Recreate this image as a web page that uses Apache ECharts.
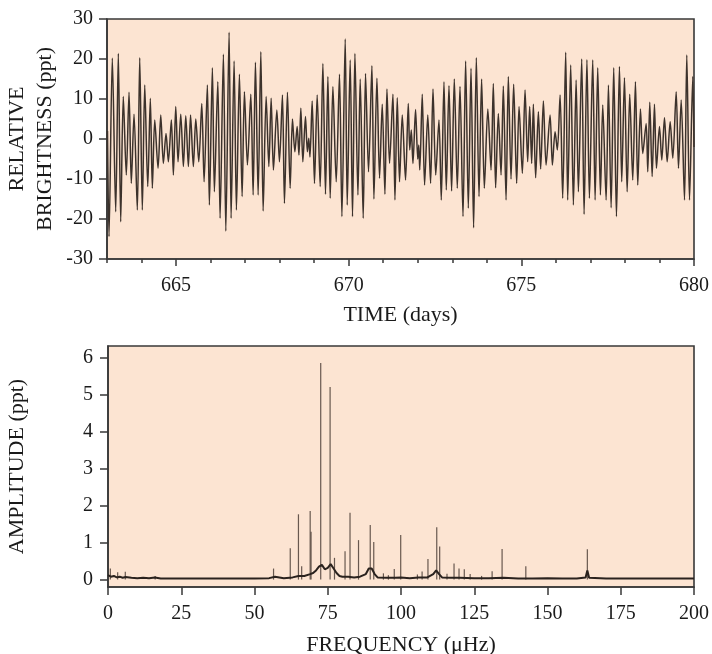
<!DOCTYPE html>
<html><head><meta charset="utf-8">
<script src="https://cdn.jsdelivr.net/npm/echarts@6/dist/echarts.min.js"></script>
<style>html,body{margin:0;padding:0;background:#fff}#c{width:712px;height:654px}</style>
</head><body><div id="c"></div>
<script>
// ---- Top panel: light curve (extrema) ----
const timeDays = [
663.014,663.058,663.154,663.252,663.328,663.397,663.472,663.559,663.638,663.704,
663.783,663.878,663.948,664.023,664.093,664.180,664.255,664.313,664.383,664.478,
664.557,664.632,664.710,664.777,664.864,664.922,664.991,665.058,665.136,665.212,
665.281,665.357,665.420,665.501,665.571,665.658,665.745,665.812,665.907,665.965,
666.052,666.110,666.209,666.275,666.371,666.441,666.536,666.594,666.681,666.748,
666.835,666.913,666.980,667.067,667.165,667.232,667.299,667.377,667.455,667.522,
667.609,667.687,667.754,667.820,667.919,667.994,668.081,668.139,668.226,668.304,
668.371,668.441,668.507,668.559,668.614,668.672,668.748,668.803,668.843,668.878,
668.942,669.009,669.087,669.174,669.252,669.328,669.397,669.464,669.542,669.638,
669.733,669.803,669.899,669.957,670.043,670.110,670.180,670.267,670.333,670.420,
670.487,670.574,670.672,670.730,670.817,670.893,670.971,671.049,671.107,671.183,
671.281,671.339,671.406,671.472,671.551,671.646,671.725,671.768,671.812,671.861,
671.936,672.000,672.029,672.058,672.130,672.197,672.290,672.371,672.441,672.520,
672.614,672.681,672.759,672.826,672.904,672.980,673.058,673.145,673.223,673.310,
673.386,673.464,673.542,673.617,673.696,673.774,673.849,673.928,674.029,674.122,
674.188,674.255,674.333,674.412,674.478,674.557,674.623,674.701,674.777,674.864,
674.933,675.029,675.107,675.183,675.241,675.299,675.348,675.414,675.493,675.559,
675.638,675.716,675.832,675.899,675.977,676.043,676.122,676.197,676.284,676.342,
676.429,676.507,676.586,676.652,676.748,676.817,676.899,676.971,677.067,677.136,
677.212,677.290,677.357,677.455,677.522,677.600,677.675,677.754,677.841,677.907,
677.986,678.064,678.139,678.226,678.304,678.371,678.449,678.516,678.614,678.661,
678.719,678.788,678.855,678.913,679.000,679.067,679.145,679.223,679.310,679.386,
679.484,679.551,679.629,679.725,679.791,679.870,679.965,680.000
];
const brightnessPpt = [
2,-24.4,20.2,-18.2,21.4,-20.7,10.6,-9,11.7,-11.1,
6.2,-17.75,20.3,-17.75,13.5,-11.9,10.2,-12.3,4.75,-7.3,
6,-6.1,1.4,-5.7,4.75,-9,8.1,-5.7,6.2,-6.9,
5.8,-6.9,6,-6.9,5,-5.7,8.9,-10.7,13.5,-16.5,
17.8,-13.2,14.3,-19.8,21.2,-23,26.7,-19.8,19.5,-17.75,
16.2,-14.4,11.8,-6.5,11.2,-14,19.2,-14,21.8,-18,
10.6,-6.9,10.2,-7.75,7.25,-5.7,11,-16.1,11.7,-12.3,
5,-3.2,3.1,-4,7.7,-5.7,5.6,-3.2,0.2,-4.5,
9.5,-11.1,11,-11.9,18.9,-13.8,15.6,-14.8,13.1,-10.7,
16.2,-19.4,25,-16.5,19.75,-19.4,21.4,-14,15,-19.8,
16.4,-8.2,18.3,-15,15.2,-9.8,8.7,-13.8,12.5,-6.1,
11.2,-15.25,10.3,-10.7,6,-10.25,8.9,-2.75,2.25,-6.1,
7.4,-5,-1.5,-7.75,11.2,-11.5,6,-11.1,12.5,-9,
4.75,-15.25,14.3,-12.75,13.3,-13,15,-12.3,13.1,-19.4,
19.5,-17.3,17.7,-22.2,20.3,-14.4,15,-12.3,7.5,-7.75,
13.9,-12.2,6.4,-9,13.25,-15.25,15.6,-10,13.7,-11.1,
8.1,-8.6,12.25,-5.7,8.1,-6.1,8.7,-9.7,6.8,-7.5,
9.5,-6.5,6,-6.5,1.8,-2.75,11,-14.8,21.7,-15.25,
18.5,-16.5,14.75,-13.2,20,-18.8,19.8,-14.8,19.75,-15.25,
17.8,-14,8.5,-15.25,13.5,-17.2,17.8,-19.4,18.1,-10.7,
15.3,-13.2,11.2,-10.25,14.3,-11.5,7.5,-3.6,3.9,-8.2,
9.2,-9.4,8.7,-7.3,3.1,-5.25,5.3,-5.7,4.3,-4.8,
11.8,-7.3,9.75,-15.25,21,-15.25,15.6,-2
];
const timeLabelValues = [665, 670, 675, 680];
const timeTickValues = [663,664,665,666,667,668,669,670,671,672,673,674,675,676,677,678,679,680];

// ---- Bottom panel: amplitude spectrum ----
const peakFreq = [0.8,3.3,5.9,16.1,56.5,62.2,65.0,66.1,69.0,69.3,72.6,75.8,77.3,80.9,82.6,85.5,89.5,90.7,94.0,95.7,97.7,99.9,105.6,107.2,109.2,112.2,113.2,115.7,118.1,119.8,121.6,123.6,127.5,131.1,134.5,142.6,163.6];
const peakAmp  = [0.3,0.2,0.21,0.1,0.3,0.85,1.77,0.36,1.86,1.3,5.87,5.22,0.59,0.77,1.81,1.07,1.48,1.02,0.17,0.12,0.29,1.21,0.14,0.22,0.56,1.42,0.9,0.16,0.44,0.3,0.28,0.15,0.1,0.23,0.83,0.36,0.82];
const baseFreq = [0,1,2,3,4,5,6,8,10,12,14,16,18,20,25,30,35,40,45,50,55,57,60,63,65,67,69,70,71,72,73,74,75,76,77,78,79,80,82,84,86,88,89,90,91,92,95,98,100,103,106,109,111,112,113,114,117,120,125,130,135,140,145,150,155,160,163,163.6,164.2,170,175,180,185,190,195,200];
const baseAmp  = [0.12,0.08,0.1,0.06,0.08,0.05,0.07,0.05,0.04,0.05,0.04,0.06,0.03,0.03,0.03,0.03,0.03,0.03,0.03,0.03,0.04,0.08,0.04,0.06,0.1,0.1,0.15,0.18,0.25,0.35,0.4,0.28,0.32,0.42,0.3,0.18,0.1,0.08,0.08,0.06,0.08,0.15,0.3,0.3,0.15,0.06,0.05,0.05,0.06,0.04,0.06,0.06,0.15,0.25,0.15,0.06,0.05,0.05,0.04,0.04,0.05,0.03,0.03,0.04,0.03,0.03,0.06,0.25,0.05,0.03,0.03,0.03,0.03,0.03,0.03,0.03];
const freqTickValues = [0,25,50,75,100,125,150,175,200];
const ampTickValues = [0,1,2,3,4,5,6];
const brightTickValues = [-30,-20,-10,0,10,20,30];

const FONT = 'Liberation Serif';
const INK = '#1a1a1a';
const FRAME = '#383838';
const PEACH = '#fce4d2';

const lcData = timeDays.map((t, i) => [t, brightnessPpt[i]]);
const peakData = peakFreq.map((f, i) => [f, peakAmp[i]]);
const baseData = baseFreq.map((f, i) => [f, baseAmp[i]]);

const labelStyle = {fontFamily: FONT, fontSize: 20, color: INK};
const nameStyle = {fontFamily: FONT, fontSize: 22, color: INK};

const chart = echarts.init(document.getElementById('c'), null, {renderer: 'canvas'});
chart.setOption({
  animation: false,
  backgroundColor: '#ffffff',
  grid: [
    {left: 107, top: 19, width: 587, height: 240, show: true, backgroundColor: PEACH, borderColor: FRAME, borderWidth: 1.6, containLabel: false, outerBoundsMode: 'none'},
    {left: 108, top: 346, width: 586, height: 241, show: true, backgroundColor: PEACH, borderColor: FRAME, borderWidth: 1.6, containLabel: false, outerBoundsMode: 'none'}
  ],
  xAxis: [
    {
      type: 'value', gridIndex: 0, min: 663, max: 680, position: 'bottom',
      axisLine: {show: true, onZero: false, lineStyle: {color: FRAME, width: 1.6}},
      axisTick: {show: true, customValues: timeLabelValues, length: 7, lineStyle: {color: FRAME, width: 1.5}},
      axisLabel: Object.assign({customValues: timeLabelValues, margin: 17}, labelStyle),
      splitLine: {show: false},
      name: 'TIME (days)', nameLocation: 'middle', nameGap: 45, nameMoveOverlap: false, nameTextStyle: nameStyle
    },
    {
      type: 'value', gridIndex: 0, min: 663, max: 680, position: 'bottom',
      axisLine: {show: false, onZero: false},
      axisTick: {show: true, customValues: timeTickValues, length: 4, lineStyle: {color: FRAME, width: 1.5}},
      axisLabel: {show: false},
      splitLine: {show: false}
    },
    {
      type: 'value', gridIndex: 1, min: 0, max: 200, interval: 25, position: 'bottom',
      axisLine: {show: true, onZero: false, lineStyle: {color: FRAME, width: 1.6}},
      axisTick: {show: true, length: 8, lineStyle: {color: FRAME, width: 1.5}},
      axisLabel: Object.assign({margin: 17}, labelStyle),
      splitLine: {show: false},
      name: 'FREQUENCY (\u03bcHz)', nameLocation: 'middle', nameGap: 47, nameMoveOverlap: false, nameTextStyle: nameStyle
    }
  ],
  yAxis: [
    {
      type: 'value', gridIndex: 0, min: -30, max: 30, interval: 10, position: 'left',
      axisLine: {show: true, onZero: false, lineStyle: {color: FRAME, width: 1.6}},
      axisTick: {show: true, length: 8, lineStyle: {color: FRAME, width: 1.5}},
      axisLabel: Object.assign({margin: 14}, labelStyle),
      splitLine: {show: false},
      name: 'RELATIVE\nBRIGHTNESS (ppt)', nameLocation: 'middle', nameRotate: 90, nameGap: 48, nameMoveOverlap: false,
      nameTextStyle: Object.assign({lineHeight: 28}, nameStyle)
    },
    {
      type: 'value', gridIndex: 1, min: -0.2, max: 6.33, position: 'left',
      axisLine: {show: true, onZero: false, lineStyle: {color: FRAME, width: 1.6}},
      axisTick: {show: true, customValues: ampTickValues, length: 8, lineStyle: {color: FRAME, width: 1.5}},
      axisLabel: Object.assign({customValues: ampTickValues, margin: 15}, labelStyle),
      splitLine: {show: false},
      name: 'AMPLITUDE (ppt)', nameLocation: 'middle', nameRotate: 90, nameGap: 80, nameMoveOverlap: false, nameTextStyle: nameStyle
    }
  ],
  series: [
    {
      type: 'line', xAxisIndex: 0, yAxisIndex: 0, data: lcData,
      showSymbol: false, smooth: 0.3, clip: true,
      lineStyle: {color: '#3c322c', width: 1.5}
    },
    {
      type: 'bar', xAxisIndex: 2, yAxisIndex: 1, data: peakData,
      barWidth: 1.2, itemStyle: {color: '#4e4038', opacity: 0.85}
    },
    {
      type: 'line', xAxisIndex: 2, yAxisIndex: 1, data: baseData,
      showSymbol: false, lineStyle: {color: '#2a221e', width: 2}
    }
  ]
});
</script>
</body></html>
